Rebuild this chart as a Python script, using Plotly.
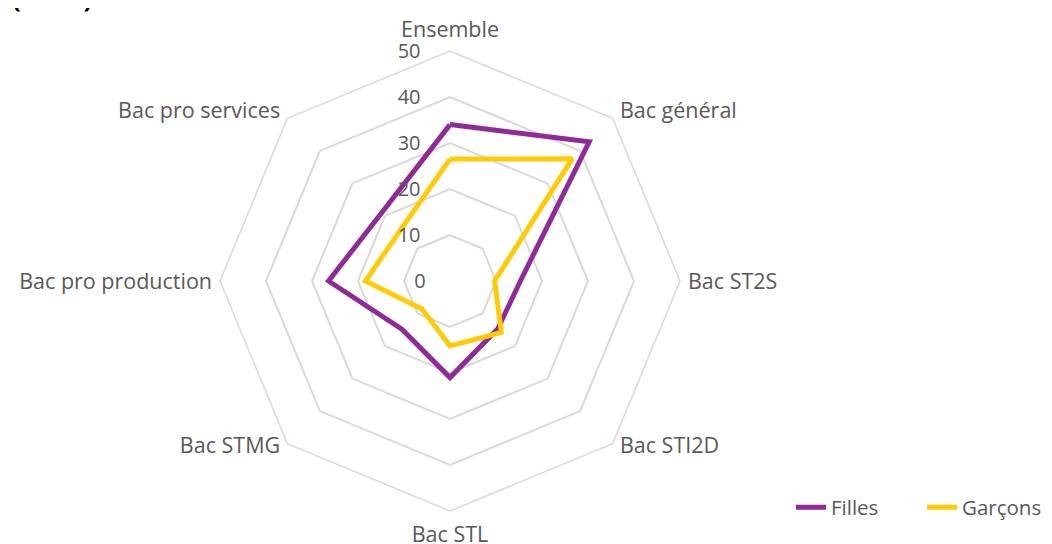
import plotly.graph_objects as go

categories = ["Ensemble", "Bac général", "Bac ST2S", "Bac STI2D", "Bac STL",
              "Bac STMG", "Bac pro production", "Bac pro services"]
filles = [34, 42.8, 15.3, 14.7, 21, 14.8, 26.4, 21]
garcons = [26.5, 37.6, 9.7, 15.8, 14.1, 8.6, 18.4, 15.4]
radial_ticks = [0, 10, 20, 30, 40, 50]

FONT = "Open Sans"
GREY = "#595959"
GRID = "#d9d9d9"
TICK_SIZE = 20
LABEL_SIZE = 21.5
BASE_SIZE = 8   # small base size for angular labels: finer control of their offset
NB = "\u00a0"

def closed(v):
    return list(v) + [v[0]]

# radial tick labels are centred on the (vertical) radial axis by plotly;
# pad them with non-breaking spaces so they sit right-aligned left of it
def padded(v):
    s = str(v)
    n = round((len(s) * 0.572 * TICK_SIZE + 28) / 10.5)
    return s + NB * n

# angular labels: visible text at LABEL_SIZE, blank small lines nudge their offset
def label(c):
    i = categories.index(c)
    n = len(categories)
    if 0 < i < n / 2:          # right-hand side: a little more gap from the grid
        c = NB + c
    elif i > n / 2:            # left-hand side
        c = c + NB
    t = f"<span style='font-size:{LABEL_SIZE}px'>{c}</span>"
    if i == 0:
        return t + "<br>" + NB
    if i == n // 2:
        return NB + "<br>" + NB + "<br>" + t
    if i in (2, 6):
        return NB + "<br>" + t
    return t

fig = go.Figure()
fig.add_trace(go.Scatterpolar(
    r=closed(filles), theta=closed(categories), name="Filles",
    mode="lines", line=dict(color="#902a98", width=5)))
fig.add_trace(go.Scatterpolar(
    r=closed(garcons), theta=closed(categories), name="Garçons",
    mode="lines", line=dict(color="#ffcb05", width=5)))

W, H = 1052, 544
cx, cy, R = 442, 273, 230
fig.update_layout(
    width=W, height=H,
    margin=dict(l=0, r=0, t=0, b=0),
    paper_bgcolor="white", plot_bgcolor="white",
    font=dict(family=FONT, color=GREY, size=LABEL_SIZE),
    polar=dict(
        domain=dict(x=[(cx - R) / W, (cx + R) / W],
                    y=[(H - cy - R) / H, (H - cy + R) / H]),
        gridshape="linear",
        bgcolor="white",
        angularaxis=dict(
            rotation=90, direction="clockwise",
            categoryorder="array", categoryarray=categories,
            tickmode="array", tickvals=categories,
            ticktext=[label(c) for c in categories],
            showgrid=False, showline=True, linecolor=GRID, linewidth=1.5,
            ticks="", tickfont=dict(size=BASE_SIZE, color=GREY, family=FONT)),
        radialaxis=dict(
            range=[0, 50], tickvals=radial_ticks,
            ticktext=[padded(v) for v in radial_ticks],
            angle=90, tickangle=90, side="counterclockwise",
            showline=False, ticks="", gridcolor=GRID, gridwidth=1.5,
            tickfont=dict(size=TICK_SIZE, color=GREY, family=FONT)),
    ),
    legend=dict(orientation="h", x=783 / W, xanchor="left", y=0.045, yanchor="bottom",
                font=dict(size=20.5, color=GREY, family=FONT),
                traceorder="normal", entrywidth=86),
    annotations=[dict(text="<b>(en %)</b>", xref="paper", yref="paper",
                      x=2 / W, y=(H - 9) / H, xanchor="left", yanchor="bottom",
                      showarrow=False, font=dict(size=26, color="black", family=FONT))],
)

fig.write_html("out.html")
